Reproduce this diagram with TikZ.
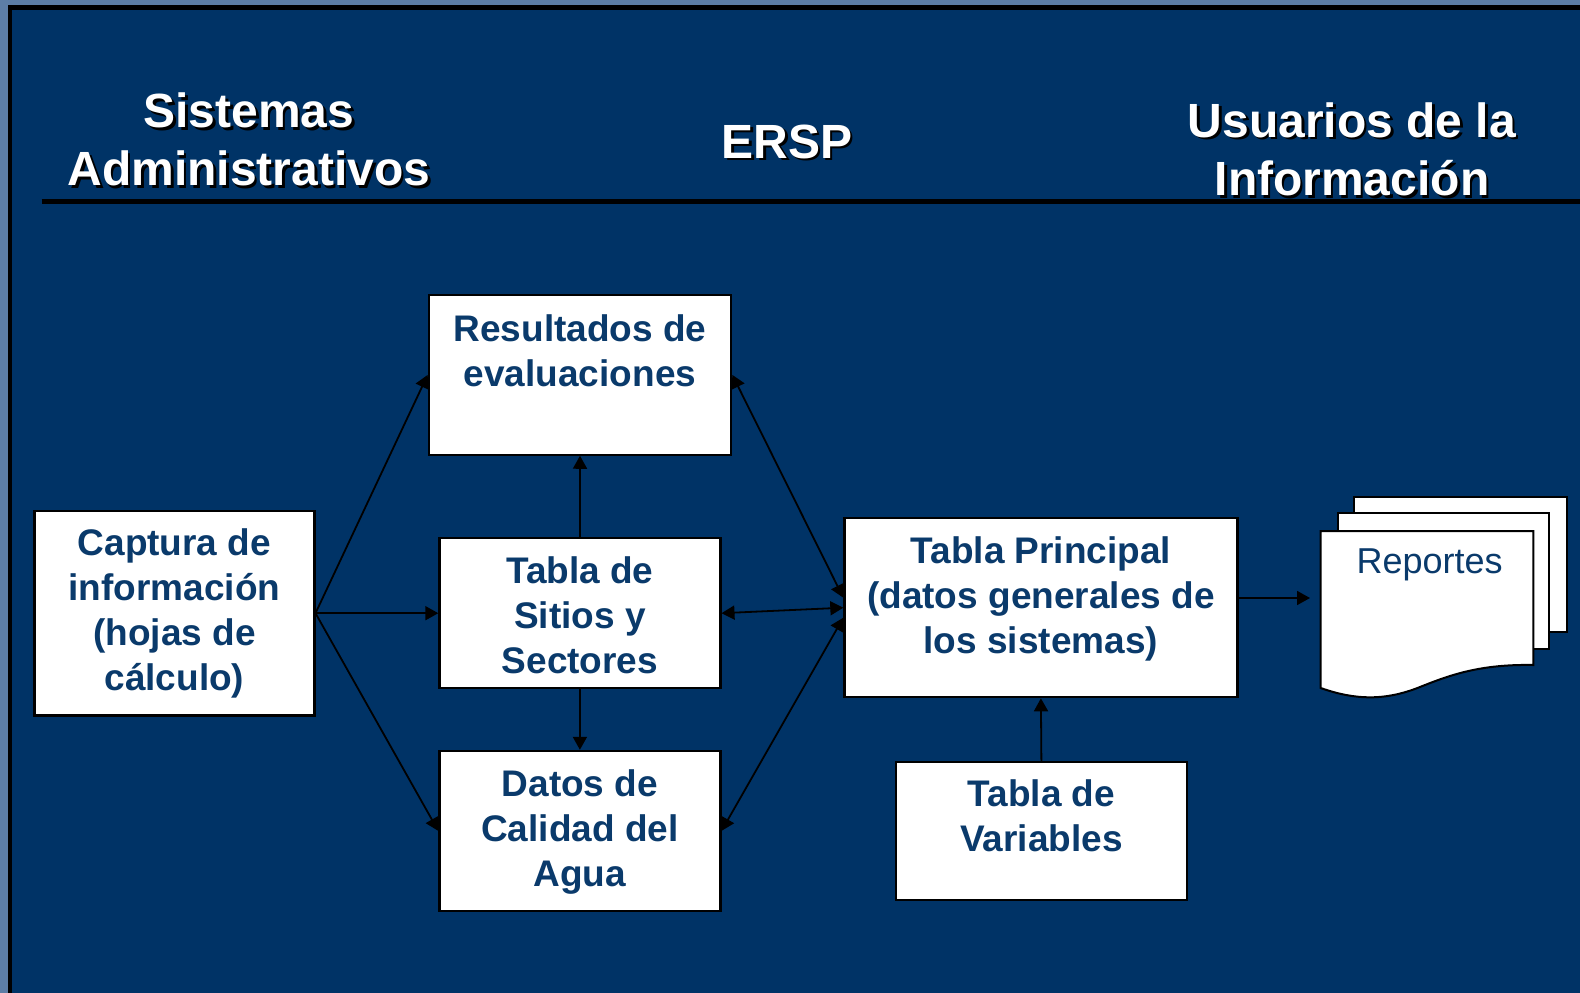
\documentclass[tikz,border=0pt]{standalone}
\usepackage{fontspec}
\setmainfont{Liberation Sans}
\usetikzlibrary{arrows.meta,calc}
\definecolor{bgblue}{HTML}{003366}
\definecolor{edgeblue}{HTML}{5D7EA6}
\definecolor{txtblue}{HTML}{0A3A6B}
\begin{document}
\begin{tikzpicture}[x=1pt,y=-1pt,
  box/.style={draw=black, line width=2.2pt, fill=white, inner sep=0pt},
  btext/.style={font=\bfseries\fontsize{37}{45}\selectfont, text=txtblue, align=center, inner sep=0pt, anchor=north},
  ttext/.style={font=\bfseries\fontsize{48}{58.3}\selectfont, text=white, align=center, inner sep=0pt, anchor=north},
  tshadow/.style={ttext, text=black},
  tip/.tip={Triangle[length=13pt,width=14pt]},
  conn/.style={line width=1.8pt, -tip},
  conntwo/.style={line width=1.8pt, tip-tip},
  page/.style={draw=black, line width=2pt, fill=white}]

\useasboundingbox (0,0) rectangle (1580,993);
\fill[edgeblue] (0,0) rectangle (1580,993);
\fill[black] (8,5) rectangle (1580,993);
\fill[bgblue] (12,10) rectangle (1580,993);
\draw[black, line width=5pt] (41.5,201.8) -- (1580,201.8);

% titles
\node[tshadow] (t1s) at (251.5,95.2) {Sistemas\\Administrativos};
\node[ttext] (t1) at (249,92.7) {Sistemas\\Administrativos};
\node[tshadow] (t2s) at (789.5,127.1) {ERSP};
\node[ttext] (t2) at (787,124.6) {ERSP};
\node[tshadow] (t3s) at (1354.5,104.8) {Usuarios de la\\Información};
\node[ttext] (t3) at (1352,102.3) {Usuarios de la\\Información};

% boxes
\node[box, minimum width=280pt, minimum height=204.5pt] (cap) at (174.4,613.2) {};
\node[box, minimum width=302.5pt, minimum height=159.5pt] (res) at (580,374.9) {};
\node[box, minimum width=281pt, minimum height=150pt] (sit) at (579.9,613.2) {};
\node[box, minimum width=281pt, minimum height=160pt] (dat) at (579.9,830.9) {};
\node[box, minimum width=393pt, minimum height=179pt] (pri) at (1040.9,607.7) {};
\node[box, minimum width=291pt, minimum height=138pt] (var) at (1041.4,830.9) {};

% box texts
\node[btext] (capT) at (174.4,528.7) {Captura de\\información\\(hojas de\\cálculo)};
\node[btext] (resT) at (580,314) {Resultados de\\evaluaciones};
\node[btext] (sitT) at (579.9,556.9) {Tabla de\\Sitios y\\Sectores};
\node[btext] (datT) at (579.9,769.5) {Datos de\\Calidad del\\Agua};
\node[btext] (priT) at (1040.9,536.7) {Tabla Principal\\(datos generales de\\los sistemas)};
\node[btext] (varT) at (1041.4,779.5) {Tabla de\\Variables};

% reportes
\filldraw[page] (1354.3,496.7) rectangle (1567.3,631.7);
\filldraw[page] (1338.3,513.3) rectangle (1549.3,649.3);
\filldraw[page] (1320.7,531) -- (1533.3,531) -- (1533.3,665)
  .. controls (1480,664) and (1450,675) .. (1420,687)
  .. controls (1390,699) and (1360,702) .. (1320.7,688) -- cycle;
\node[font=\fontsize{36}{43}\selectfont, text=txtblue, anchor=base, inner sep=0pt] (rep) at (1429.7,573.3) {Reportes};
\coordinate (repL) at (1310,598);

% connectors
\draw[conn] (cap.east) -- (res.west);
\draw[conn] (cap.east) -- (sit.west);
\draw[conn] (cap.east) -- (dat.west);
\draw[conn] (sit.north) -- (res.south);
\draw[conn] (sit.south) -- (dat.north);
\draw[conntwo] (res.east) -- ($(pri.west)+(0,-10)$);
\draw[conntwo] (sit.east) -- (pri.west);
\draw[conntwo] (dat.east) -- ($(pri.west)+(0,10)$);
\draw[conn] (var.north) -- (pri.south);
\draw[conn] (pri.east |- repL) -- (repL);
\end{tikzpicture}
\end{document}
